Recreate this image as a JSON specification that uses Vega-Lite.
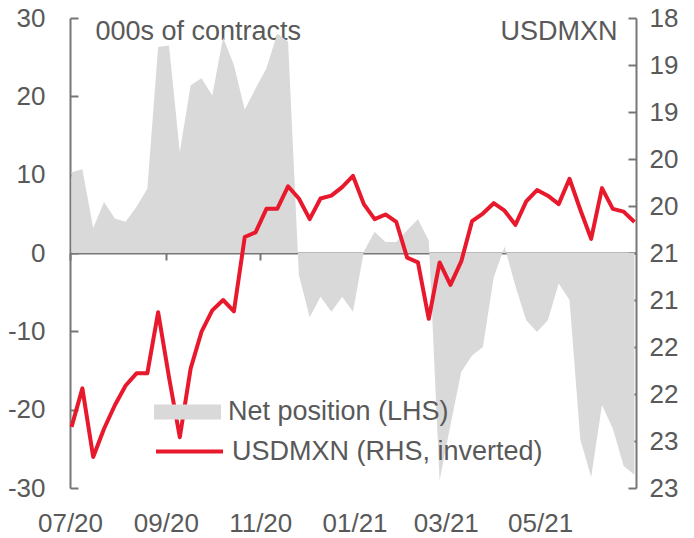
{
  "$schema": "https://vega.github.io/schema/vega-lite/v6.json",
  "width": 566,
  "height": 470,
  "autosize": "none",
  "padding": {"left": 70, "top": 18, "right": 58, "bottom": 50},
  "background": "white",
  "config": {
    "font": "Liberation Sans",
    "view": {"stroke": null},
    "axis": {
      "grid": false,
      "labelColor": "#595959",
      "titleColor": "#595959",
      "domainColor": "#767676",
      "tickColor": "#767676",
      "domainWidth": 2,
      "tickWidth": 2,
      "labelFontSize": 26,
      "titleFontSize": 27,
      "titleFontWeight": "normal",
      "labelFlush": false,
      "labelOverlap": false,
      "zindex": 1
    }
  },
  "data": {
    "values": [
      {"date": "2020-07-02", "net": 10.3, "usdmxn": 22.35},
      {"date": "2020-07-09", "net": 10.7, "usdmxn": 21.94},
      {"date": "2020-07-16", "net": 3.2, "usdmxn": 22.67},
      {"date": "2020-07-23", "net": 6.5, "usdmxn": 22.37},
      {"date": "2020-07-30", "net": 4.4, "usdmxn": 22.12},
      {"date": "2020-08-06", "net": 4.0, "usdmxn": 21.91},
      {"date": "2020-08-13", "net": 5.9, "usdmxn": 21.78},
      {"date": "2020-08-20", "net": 8.2, "usdmxn": 21.78},
      {"date": "2020-08-27", "net": 26.3, "usdmxn": 21.13},
      {"date": "2020-09-03", "net": 26.5, "usdmxn": 21.82},
      {"date": "2020-09-10", "net": 12.9, "usdmxn": 22.46},
      {"date": "2020-09-17", "net": 21.4, "usdmxn": 21.73},
      {"date": "2020-09-24", "net": 22.3, "usdmxn": 21.34},
      {"date": "2020-10-01", "net": 20.1, "usdmxn": 21.11},
      {"date": "2020-10-08", "net": 27.5, "usdmxn": 21.0},
      {"date": "2020-10-15", "net": 24.0, "usdmxn": 21.12},
      {"date": "2020-10-22", "net": 18.3, "usdmxn": 20.33},
      {"date": "2020-10-29", "net": 21.0, "usdmxn": 20.28},
      {"date": "2020-11-05", "net": 23.6, "usdmxn": 20.03},
      {"date": "2020-11-12", "net": 28.0, "usdmxn": 20.03},
      {"date": "2020-11-19", "net": 27.0, "usdmxn": 19.79},
      {"date": "2020-11-26", "net": -2.8, "usdmxn": 19.92},
      {"date": "2020-12-03", "net": -8.2, "usdmxn": 20.14},
      {"date": "2020-12-10", "net": -5.6, "usdmxn": 19.92},
      {"date": "2020-12-17", "net": -7.5, "usdmxn": 19.89},
      {"date": "2020-12-24", "net": -5.6, "usdmxn": 19.8},
      {"date": "2020-12-31", "net": -7.5, "usdmxn": 19.68},
      {"date": "2021-01-07", "net": 0.2, "usdmxn": 19.98},
      {"date": "2021-01-14", "net": 2.7, "usdmxn": 20.14},
      {"date": "2021-01-21", "net": 1.4, "usdmxn": 20.09},
      {"date": "2021-01-28", "net": 1.4, "usdmxn": 20.17},
      {"date": "2021-02-04", "net": 2.9, "usdmxn": 20.55},
      {"date": "2021-02-11", "net": 4.3, "usdmxn": 20.6},
      {"date": "2021-02-18", "net": 1.6, "usdmxn": 21.2},
      {"date": "2021-02-25", "net": -29.0, "usdmxn": 20.6},
      {"date": "2021-03-04", "net": -22.0, "usdmxn": 20.84},
      {"date": "2021-03-11", "net": -15.2, "usdmxn": 20.59},
      {"date": "2021-03-18", "net": -13.1, "usdmxn": 20.16},
      {"date": "2021-03-25", "net": -12.0, "usdmxn": 20.08},
      {"date": "2021-04-01", "net": -3.1, "usdmxn": 19.97},
      {"date": "2021-04-08", "net": 0.8, "usdmxn": 20.05},
      {"date": "2021-04-15", "net": -4.2, "usdmxn": 20.2},
      {"date": "2021-04-22", "net": -8.6, "usdmxn": 19.95},
      {"date": "2021-04-29", "net": -10.1, "usdmxn": 19.83},
      {"date": "2021-05-06", "net": -8.6, "usdmxn": 19.89},
      {"date": "2021-05-13", "net": -3.9, "usdmxn": 19.98},
      {"date": "2021-05-20", "net": -6.0, "usdmxn": 19.71},
      {"date": "2021-05-27", "net": -23.8, "usdmxn": 20.04},
      {"date": "2021-06-03", "net": -28.6, "usdmxn": 20.35},
      {"date": "2021-06-10", "net": -19.4, "usdmxn": 19.81},
      {"date": "2021-06-17", "net": -22.4, "usdmxn": 20.03},
      {"date": "2021-06-24", "net": -27.2, "usdmxn": 20.06},
      {"date": "2021-07-01", "net": -28.3, "usdmxn": 20.17}
    ]
  },
  "layer": [
    {
      "mark": {"type": "area", "interpolate": "linear"},
      "encoding": {
        "x": {
          "field": "date",
          "type": "temporal",
          "scale": {
            "type": "utc",
            "domain": [
              {"year": 2020, "month": 7, "date": 1, "utc": true},
              {"year": 2021, "month": 7, "date": 2, "utc": true}
            ]
          },
          "axis": {
            "orient": "bottom",
            "title": null,
            "domain": false,
            "ticks": false,
            "tickSize": 0,
            "labelPadding": 22,
            "format": "%m/%y",
            "values": [
              {"year": 2020, "month": 7, "date": 1, "utc": true},
              {"year": 2020, "month": 9, "date": 1, "utc": true},
              {"year": 2020, "month": 11, "date": 1, "utc": true},
              {"year": 2021, "month": 1, "date": 1, "utc": true},
              {"year": 2021, "month": 3, "date": 1, "utc": true},
              {"year": 2021, "month": 5, "date": 1, "utc": true}
            ]
          }
        },
        "y": {
          "field": "net",
          "type": "quantitative",
          "scale": {"domain": [-30, 30], "nice": false},
          "axis": {
            "orient": "left",
            "values": [-30, -20, -10, 0, 10, 20, 30],
            "labelExpr": "datum.value < 0 ? '-' + abs(datum.value) : '' + datum.value",
            "tickSize": -8,
            "labelPadding": 33,
            "title": "000s of contracts",
            "titleAngle": 0,
            "titleAlign": "left",
            "titleBaseline": "alphabetic",
            "titleX": 25,
            "titleY": 21.5
          }
        },
        "fill": {
          "datum": "Net position (LHS)",
          "type": "nominal",
          "scale": {"range": ["#D9D9D9"]},
          "legend": {
            "orient": "none",
            "legendX": 84,
            "legendY": 360.5,
            "title": null,
            "padding": 0,
            "symbolType": "M-1,-0.224H1V0.224H-1Z",
            "symbolSize": 4489,
            "symbolStrokeWidth": 0,
            "labelFontSize": 27,
            "labelColor": "#595959",
            "labelOffset": 7,
            "labelLimit": 0
          }
        }
      }
    },
    {
      "mark": {"type": "line", "strokeWidth": 4, "strokeJoin": "round"},
      "encoding": {
        "x": {
          "field": "date",
          "type": "temporal",
          "axis": {
            "orient": "bottom",
            "title": null,
            "offset": -235,
            "labels": false,
            "tickSize": 7,
            "values": [
              {"year": 2020, "month": 7, "date": 1, "utc": true},
              {"year": 2020, "month": 9, "date": 1, "utc": true},
              {"year": 2020, "month": 11, "date": 1, "utc": true},
              {"year": 2021, "month": 1, "date": 1, "utc": true},
              {"year": 2021, "month": 3, "date": 1, "utc": true},
              {"year": 2021, "month": 5, "date": 1, "utc": true}
            ]
          }
        },
        "y": {
          "field": "usdmxn",
          "type": "quantitative",
          "scale": {"domain": [18, 23], "nice": false, "zero": false, "reverse": true},
          "axis": {
            "orient": "right",
            "values": [18, 18.5, 19, 19.5, 20, 20.5, 21, 21.5, 22, 22.5, 23],
            "format": ".0f",
            "tickSize": -8,
            "labelPadding": 21,
            "title": "USDMXN",
            "titleAngle": 0,
            "titleAlign": "right",
            "titleBaseline": "alphabetic",
            "titleX": -19,
            "titleY": 21.5
          }
        },
        "stroke": {
          "datum": "USDMXN (RHS, inverted)",
          "type": "nominal",
          "scale": {"range": ["#E8192C"]},
          "legend": {
            "orient": "none",
            "legendX": 84,
            "legendY": 398,
            "title": null,
            "padding": 0,
            "symbolType": "stroke",
            "symbolSize": 4489,
            "symbolStrokeWidth": 4,
            "labelFontSize": 27,
            "labelColor": "#595959",
            "labelOffset": 7,
            "labelLimit": 0
          }
        }
      }
    }
  ],
  "resolve": {
    "scale": {"y": "independent"},
    "axis": {"x": "independent", "y": "independent"}
  }
}
